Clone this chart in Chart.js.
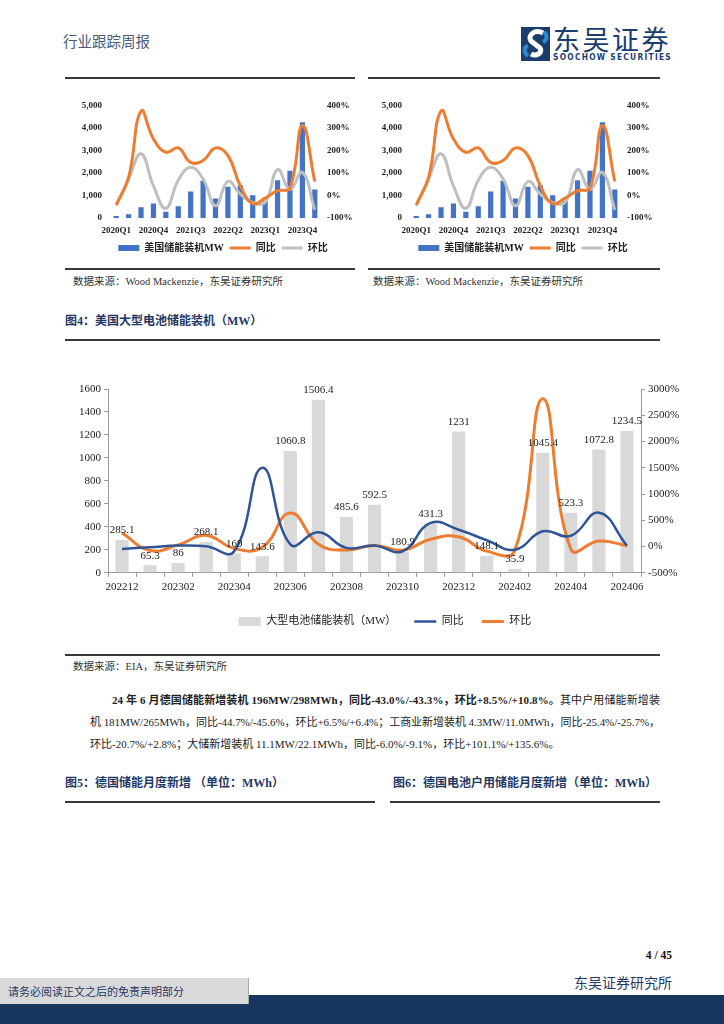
<!DOCTYPE html>
<html>
<head>
<meta charset="utf-8">
<script src="https://cdn.jsdelivr.net/npm/chart.js@4.4.1/dist/chart.umd.min.js"></script>
<style>
  body { margin: 0; width: 724px; height: 1024px; position: relative; overflow: hidden; background: #fff;
         font-family: "Liberation Serif", "Noto Sans CJK SC", serif; color: #222; }
  .abs { position: absolute; }
  .rule { position: absolute; height: 2px; background: #3a3a3a; }
  .fig { position: absolute; font-size: 12px; font-weight: bold; color: #1f3864; white-space: nowrap; }
  .src { position: absolute; font-size: 10.5px; color: #333; white-space: nowrap; }
  .para { position: absolute; display: inline-block; font-size: 11px; line-height: 22px; color: #222; white-space: nowrap; }
  .fit { display: inline-block; white-space: nowrap; }
</style>
</head>
<body>

<div class="abs" style="left:63px;top:30px;font-size:14.5px;color:#4a5a78;">行业跟踪周报</div>
<svg class="abs" style="left:521px;top:27px" width="29" height="34" viewBox="0 0 29 34">
  <rect x="0" y="0" width="29" height="34" fill="#1a3d6e"/>
  <path d="M22 6 C14 2 6 8 10 14 L19 21 C22 25 16 30 10 27" stroke="#fff" stroke-width="5" fill="none"/>
  <path d="M23 5 C27 9 26 13 22 15" stroke="#2d8ad2" stroke-width="4" fill="none"/>
  <path d="M7 29 C2 25 3 20 7 19" stroke="#2d8ad2" stroke-width="4" fill="none"/>
</svg>
<div class="abs" style="left:553px;top:22px;font-size:27px;color:#1a3d6e;font-family:'Noto Sans CJK SC';letter-spacing:2.5px;line-height:34px;">东吴证券</div>
<div class="abs fit" data-w="119" style="left:553px;top:52px;font-size:8.3px;font-weight:bold;color:#1a3d6e;font-family:'DejaVu Sans Condensed','DejaVu Sans';line-height:10px;">SOOCHOW SECURITIES</div>

<div class="rule" style="left:65px;top:77px;width:290px;"></div>
<div class="rule" style="left:368px;top:77px;width:292px;"></div>

<div class="abs" style="left:62px;top:92px;width:322px;height:171px;"><canvas id="usLeft"></canvas></div>
<div class="abs" style="left:362px;top:92px;width:322px;height:171px;"><canvas id="usRight"></canvas></div>

<div class="rule" style="left:65px;top:268px;width:290px;height:1.5px;"></div>
<div class="rule" style="left:368px;top:268px;width:292px;height:1.5px;"></div>
<div class="src" style="left:73px;top:273px;">数据来源：Wood Mackenzie，东吴证券研究所</div>
<div class="src" style="left:373px;top:273px;">数据来源：Wood Mackenzie，东吴证券研究所</div>

<div class="fig" style="left:65px;top:311px;">图4：美国大型电池储能装机（MW）</div>
<div class="rule" style="left:65px;top:339px;width:595px;"></div>

<div class="abs" style="left:60px;top:375px;width:650px;height:262px;"><canvas id="utility"></canvas></div>

<div class="rule" style="left:65px;top:654px;width:595px;height:1.5px;"></div>
<div class="src" style="left:73px;top:658px;">数据来源：EIA，东吴证券研究所</div>

<div class="para fit" data-w="548" style="left:112px;top:689px;"><b>24 年 6 月德国储能新增装机 196MW/298MWh，同比-43.0%/-43.3%，环比+8.5%/+10.8%。</b>其中户用储能新增装</div>
<div class="para fit" data-w="570" style="left:90px;top:711px;">机 181MW/265MWh，同比-44.7%/-45.6%，环比+6.5%/+6.4%；工商业新增装机 4.3MW/11.0MWh，同比-25.4%/-25.7%，</div>
<div class="para" style="left:90px;top:733px;">环比-20.7%/+2.8%；大储新增装机 11.1MW/22.1MWh，同比-6.0%/-9.1%，环比+101.1%/+135.6%。</div>

<div class="fig" style="left:65px;top:773px;">图5：德国储能月度新增 （单位：MWh）</div>
<div class="fig" style="left:393px;top:773px;">图6：德国电池户用储能月度新增（单位：MWh）</div>
<div class="rule" style="left:65px;top:801px;width:310px;"></div>
<div class="rule" style="left:390px;top:801px;width:270px;"></div>

<div class="abs" style="left:600px;top:949px;width:72px;text-align:right;font-size:11.5px;font-weight:bold;color:#111;">4 / 45</div>
<div class="abs" style="left:560px;top:972px;width:112px;text-align:right;font-size:14px;color:#1f3864;">东吴证券研究所</div>
<div class="abs" style="left:0;top:995px;width:724px;height:29px;background:#17375e;"></div>
<div class="abs" style="left:0;top:978px;width:248px;height:26px;background:#d9d9d9;border-right:1px solid #aaa;"></div>
<div class="abs" style="left:8px;top:983px;font-size:11px;color:#1f3864;">请务必阅读正文之后的免责声明部分</div>

<script>
const serif = '"Liberation Serif", "Noto Sans CJK SC", serif';

// spread each text line to its target width, like the justified lines of the page
document.querySelectorAll(".fit").forEach((el) => {
  const target = Number(el.dataset.w);
  const n = el.textContent.length;
  el.style.letterSpacing = (target - el.getBoundingClientRect().width) / n + "px";
});

// 美国储能装机（季度）
const quarters = ["2020Q1", "2020Q2", "2020Q3", "2020Q4", "2021Q1", "2021Q2", "2021Q3", "2021Q4", "2022Q1",
  "2022Q2", "2022Q3", "2022Q4", "2023Q1", "2023Q2", "2023Q3", "2023Q4", "2024Q1"];
const usInstallMW = [90, 165, 476, 640, 283, 520, 1175, 1650, 863, 1384, 1458, 1012, 740, 1680, 2098, 4256, 1265];
const usYoY = [-43, 80, 375, 251, 192, 211, 147, 155, 211, 177, 43, -36, -12, 21, 33, 311, 62];
const usQoQ = [-43, 73, 185, 43, -57, 68, 125, 73, -46, 62, 6, -31, -31, 115, 28, 103, -64];

// 美国大型电池储能装机（月度）
const months = ["202212", "202301", "202302", "202303", "202304", "202305", "202306", "202307", "202308", "202309",
  "202310", "202311", "202312", "202401", "202402", "202403", "202404", "202405", "202406"];
const utilityMW = [285.1, 65.3, 86, 268.1, 169, 143.6, 1060.8, 1506.4, 485.6, 592.5,
  180.9, 431.3, 1231, 148.1, 35.9, 1045.4, 523.3, 1072.8, 1234.5];
const utilityYoY = [-45, -13, 19, 6, -90, 1500, 40, 270, -25, 20, -90, 450, 320, 120, -60, 290, 205, 645, 16];
const utilityMoM = [260, -77, 32, 212, -37, -15, 639, 42, -68, 22, -69, 138, 185, -88, -76, 2812, -50, 105, 15];

function fixWidth(w) {
  return (scale) => { scale.width = w; };
}

function createUsChart(item) {
  const tickFont = { family: serif, size: 9, weight: "bold" };
  return new Chart(item, {
    type: "bar",
    data: {
      labels: quarters,
      datasets: [
        { label: "美国储能装机MW", data: usInstallMW, backgroundColor: "#4472c4", yAxisID: "y",
          barPercentage: 0.42, categoryPercentage: 1, order: 1, pointStyle: "rect" },
        { type: "line", label: "同比", data: usYoY, borderColor: "#ed7d31", borderWidth: 3, yAxisID: "y1",
          pointRadius: 0, tension: 0.45, order: 0, pointStyle: "line" },
        { type: "line", label: "环比", data: usQoQ, borderColor: "#bfbfbf", borderWidth: 3, yAxisID: "y1",
          pointRadius: 0, tension: 0.45, order: 0, pointStyle: "line" },
      ],
    },
    options: {
      responsive: true,
      maintainAspectRatio: false,
      animation: false,
      layout: { padding: { top: 13, bottom: 0 } },
      plugins: {
        tooltip: { enabled: false },
        legend: {
          position: "bottom",
          labels: {
            usePointStyle: true, pointStyleWidth: 21, boxHeight: 6, padding: 6,
            color: "#222", font: { family: serif, size: 10, weight: "bold" },
            sort: (a, b) => a.datasetIndex - b.datasetIndex,
          },
        },
      },
      scales: {
        x: {
          afterFit: (scale) => { scale.height = 19; },
          grid: { display: false, drawTicks: false }, border: { display: false },
          ticks: { autoSkip: false, maxRotation: 0, padding: 7, color: "#222", font: tickFont,
            callback: (v, i) => (i % 3 === 0 ? quarters[i] : "") },
        },
        y: {
          position: "left", min: 0, max: 5000, afterFit: fixWidth(48),
          grid: { display: false, drawTicks: false }, border: { display: false },
          ticks: { stepSize: 1000, padding: 8, color: "#222", font: tickFont, callback: (v) => v.toLocaleString("en-US") },
        },
        y1: {
          position: "right", min: -100, max: 400, afterFit: fixWidth(63),
          grid: { display: false, drawTicks: false }, border: { display: false },
          ticks: { stepSize: 100, padding: 6, color: "#222", font: tickFont, callback: (v) => v + "%" },
        },
      },
    },
  });
}

createUsChart(document.querySelector("#usLeft"));
createUsChart(document.querySelector("#usRight"));

const barLabels = {
  id: "barLabels",
  afterDatasetsDraw(chart) {
    const { ctx } = chart;
    const meta = chart.getDatasetMeta(0);
    ctx.save();
    ctx.font = "11px " + serif;
    ctx.fillStyle = "#222";
    ctx.textAlign = "center";
    ctx.textBaseline = "bottom";
    meta.data.forEach((bar, i) => {
      ctx.fillText(String(utilityMW[i]), bar.x, bar.y - 4);
    });
    ctx.restore();
  },
};

const axisFont = { family: serif, size: 11 };
new Chart(document.querySelector("#utility"), {
  type: "bar",
  data: {
    labels: months,
    datasets: [
      { label: "大型电池储能装机（MW）", data: utilityMW, backgroundColor: "#d9d9d9", yAxisID: "y",
        barPercentage: 0.47, categoryPercentage: 1, order: 1, pointStyle: "rect" },
      { type: "line", label: "同比", data: utilityYoY, borderColor: "#2f5597", borderWidth: 2.5, yAxisID: "y1",
        pointRadius: 0, tension: 0.45, order: 0, pointStyle: "line" },
      { type: "line", label: "环比", data: utilityMoM, borderColor: "#ed7d31", borderWidth: 3, yAxisID: "y1",
        pointRadius: 0, tension: 0.45, order: 0, pointStyle: "line" },
    ],
  },
  options: {
    responsive: true,
    maintainAspectRatio: false,
    animation: false,
    layout: { padding: { top: 14, bottom: 0 } },
    plugins: {
      tooltip: { enabled: false },
      legend: {
        position: "bottom",
        labels: {
          usePointStyle: true, pointStyleWidth: 22, boxHeight: 9, padding: 18,
          color: "#222", font: { family: serif, size: 11 },
          sort: (a, b) => a.datasetIndex - b.datasetIndex,
        },
      },
    },
    scales: {
      x: {
        grid: { display: true, drawOnChartArea: false, tickLength: 4, color: "#9a9a9a" },
        border: { color: "#9a9a9a" },
        ticks: { autoSkip: false, maxRotation: 0, padding: 4, color: "#222", font: axisFont,
          callback: (v, i) => (i % 2 === 0 ? months[i] : "") },
      },
      y: {
        position: "left", min: 0, max: 1600, afterFit: fixWidth(48),
        grid: { drawOnChartArea: false, tickLength: 4, color: "#9a9a9a" },
        border: { color: "#9a9a9a" },
        ticks: { stepSize: 200, color: "#222", font: axisFont, callback: (v) => String(v) },
      },
      y1: {
        position: "right", min: -500, max: 3000, afterFit: fixWidth(69),
        grid: { drawOnChartArea: false, tickLength: 4, color: "#9a9a9a" },
        border: { color: "#9a9a9a" },
        ticks: { stepSize: 500, color: "#222", font: axisFont, callback: (v) => v + "%" },
      },
    },
  },
  plugins: [barLabels],
});
</script>
</body>
</html>
